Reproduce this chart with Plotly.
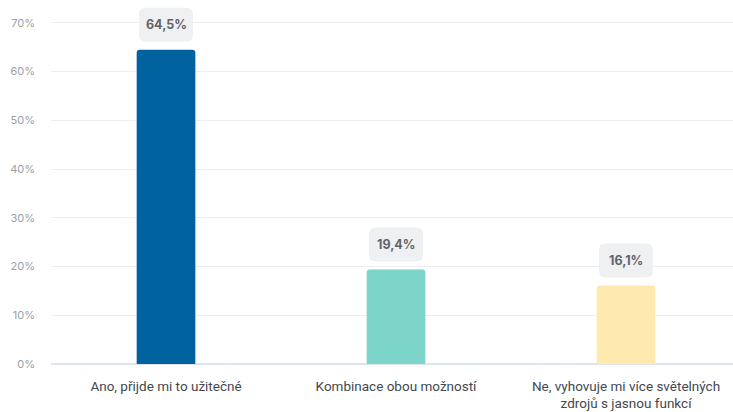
import plotly.graph_objects as go

categories = ["Ano, přijde mi to užitečné", "Kombinace obou možností",
              "Ne, vyhovuje mi více světelných<br>zdrojů s jasnou funkcí"]
values = [64.5, 19.4, 16.1]
value_labels = ["64,5%", "19,4%", "16,1%"]
colors = ["#00629f", "#7dd4c8", "#feeaae"]
y_ticks = [0, 10, 20, 30, 40, 50, 60, 70]
y_tick_labels = [f"{t}%" for t in y_ticks]

fig = go.Figure()
fig.add_trace(go.Bar(
    x=list(range(len(categories))),
    y=values,
    marker=dict(color=colors, cornerradius=3, line=dict(width=0)),
    width=0.255,
    hoverinfo="skip",
))


def rounded_box(w, h, r, gap):
    # rounded rectangle in pixels, anchored at the bar top, sitting `gap` px above it
    x0, x1 = -w / 2, w / 2
    y0, y1 = gap, gap + h
    return (f"M{x0 + r},{y0} L{x1 - r},{y0} Q{x1},{y0} {x1},{y0 + r} "
            f"L{x1},{y1 - r} Q{x1},{y1} {x1 - r},{y1} L{x0 + r},{y1} "
            f"Q{x0},{y1} {x0},{y1 - r} L{x0},{y0 + r} Q{x0},{y0} {x0 + r},{y0} Z")


for i, (v, lab) in enumerate(zip(values, value_labels)):
    fig.add_shape(
        type="path", xref="x", yref="y",
        xsizemode="pixel", ysizemode="pixel",
        xanchor=i, yanchor=v,
        path=rounded_box(54, 34, 7, 8),
        fillcolor="#eff0f1", line=dict(width=0), layer="above",
    )
    fig.add_annotation(
        x=i, y=v, xref="x", yref="y", text=f"<b>{lab}</b>",
        showarrow=False, yshift=25,
        font=dict(family="Inter", size=12.5, color="#5f646b"),
    )

fig.update_layout(
    width=733, height=412,
    margin=dict(l=51, r=0, t=0, b=48),
    paper_bgcolor="white", plot_bgcolor="white",
    showlegend=False,
    font=dict(family="Roboto", color="#3b3f45"),
    xaxis=dict(
        range=[-0.5, 2.465], automargin=False,
        tickmode="array", tickvals=list(range(len(categories))), ticktext=categories,
        tickfont=dict(family="Roboto", size=13.5, color="#44484e"),
        showgrid=False, showline=False, zeroline=False, ticks="",
        ticklabelstandoff=12,
    ),
    yaxis=dict(
        range=[0, 74.7], automargin=False,
        tickmode="array", tickvals=y_ticks, ticktext=y_tick_labels,
        tickfont=dict(family="Inter", size=11, color="#9aa0a6"),
        showgrid=True, gridcolor="#eceef0", gridwidth=1,
        zeroline=True, zerolinecolor="#dde5f0", zerolinewidth=2,
        ticks="", ticklabelstandoff=15,
    ),
)

fig.write_html("out.html")
